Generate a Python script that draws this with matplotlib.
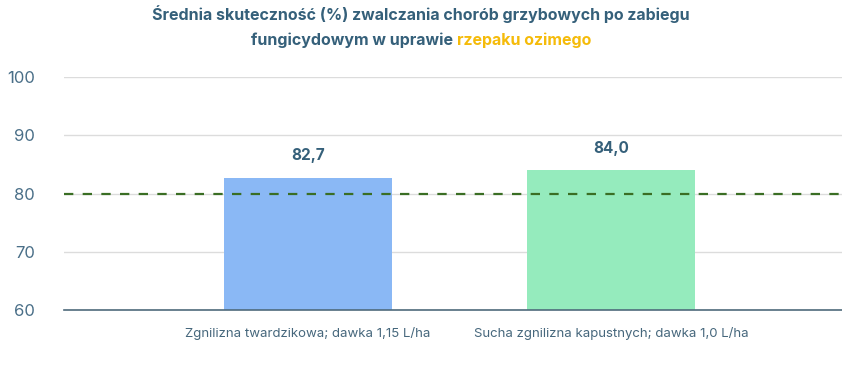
import matplotlib
matplotlib.use('Agg')
import matplotlib.pyplot as plt

plt.rcParams['font.family'] = ['Inter', 'DejaVu Sans']

categories = ['Zgnilizna twardzikowa; dawka 1,15 L/ha', 'Sucha zgnilizna kapustnych; dawka 1,0 L/ha']
values = [82.7, 84.0]
value_labels = ['82,7', '84,0']
bar_colors = ['#8ab8f5', '#95ebbd']
threshold = 80
yticks = [60, 70, 80, 90, 100]

title_line1 = 'Średnia skuteczność (%) zwalczania chorób grzybowych po zabiegu'
title_line2a = 'fungicydowym w uprawie '
title_line2b = 'rzepaku ozimego'

dark = '#35607a'
fig = plt.figure(figsize=(8.42, 3.88), dpi=100)
ax = fig.add_axes([64 / 842, 78 / 388, 778 / 842, 233 / 388])

x = list(range(len(categories)))
ax.bar(x, values, width=0.555, color=bar_colors, zorder=2)
for xi, v, lab in zip(x, values, value_labels):
    ax.annotate(lab, (xi, v), xytext=(0, 10.5), textcoords='offset points',
                ha='center', va='bottom', fontsize=11, fontweight='bold', color=dark)

ax.axhline(threshold, color='#3a6e24', lw=1.6, dashes=(4.2, 4.2), zorder=3)

ax.set_ylim(60, 100)
ax.set_xlim(-0.805, 1.762)
ax.set_yticks(yticks)
ax.set_yticklabels([str(t) for t in yticks])
ax.set_xticks(x)
ax.set_xticklabels(categories)
ax.tick_params(axis='y', length=0, pad=21, labelsize=12, labelcolor='#4a6f88')
ax.tick_params(axis='x', length=0, pad=12, labelsize=9.5, labelcolor='#46677c')
ax.grid(axis='y', color='#dcdcdc', lw=1, zorder=0)
for s in ['top', 'right', 'left']:
    ax.spines[s].set_visible(False)
ax.spines['bottom'].set_color('#4f6b7c')
ax.spines['bottom'].set_linewidth(1.2)
ax.spines['bottom'].set_zorder(4)

# title, second line partly highlighted
fig.text(0.5, 1 - 14 / 388, title_line1, ha='center', va='center',
         fontsize=11.5, fontweight='bold', color=dark)
fig.canvas.draw()
r = fig.canvas.get_renderer()
ta = fig.text(0, 1 - 40 / 388, title_line2a, ha='left', va='center',
              fontsize=11.5, fontweight='bold', color=dark)
tb = fig.text(0, 1 - 40 / 388, title_line2b, ha='left', va='center',
              fontsize=11.5, fontweight='bold', color='#f5bb0a')
wa = ta.get_window_extent(r).width / fig.bbox.width
wb = tb.get_window_extent(r).width / fig.bbox.width
x0 = 0.5 - (wa + wb) / 2
ta.set_x(x0)
tb.set_x(x0 + wa)

fig.savefig('out.png', dpi=100)
